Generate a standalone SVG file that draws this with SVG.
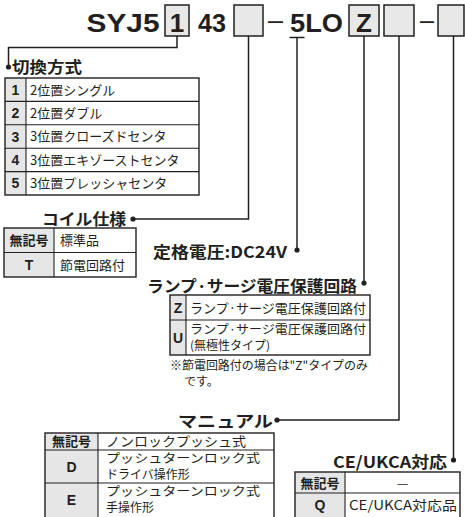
<svg xmlns="http://www.w3.org/2000/svg" width="465" height="517" viewBox="0 0 465 517">
<style>
.t{font-family:"Liberation Sans",Arial,sans-serif;font-weight:bold;font-size:26px;fill:#231f20}
.dash{font-family:"Liberation Sans",Arial,sans-serif;font-size:26px;fill:#231f20}
.box{fill:#e8e8e8;stroke:#231f20;stroke-width:1.5}
.h{font-family:"Noto Sans CJK JP","Liberation Sans",sans-serif;font-weight:bold;font-size:16px;fill:#231f20}
.c{font-family:"Noto Sans CJK JP","Liberation Sans",sans-serif;font-size:13px;fill:#231f20}
.c2{font-family:"Noto Sans CJK JP","Liberation Sans",sans-serif;font-size:12px;fill:#231f20}
.k{font-family:"Liberation Sans","Noto Sans CJK JP",sans-serif;font-weight:bold;font-size:14px;fill:#231f20;text-anchor:middle}
.kj{font-family:"Noto Sans CJK JP",sans-serif;font-weight:bold;font-size:13px;fill:#231f20;text-anchor:middle}
.key{fill:#e6e6e6}
.frame{fill:none;stroke:#231f20;stroke-width:1.4}
.div{stroke:#231f20;stroke-width:1.1}
.ln{fill:none;stroke:#231f20;stroke-width:1.5}
.dot{fill:#231f20}
</style>
<g id="model">
<text class="t" x="86.5" y="32" textLength="73" lengthAdjust="spacingAndGlyphs">SYJ5</text>
<rect class="box" x="165" y="5" width="24" height="31"/>
<text class="t" x="177" y="32" text-anchor="middle">1</text>
<text class="t" x="198" y="32" textLength="28" lengthAdjust="spacingAndGlyphs">43</text>
<rect class="box" x="234" y="5" width="29" height="31"/>
<text class="dash" x="268" y="29" textLength="15" lengthAdjust="spacingAndGlyphs">–</text>
<text class="t" x="290" y="32" textLength="53" lengthAdjust="spacingAndGlyphs">5LO</text>
<line x1="289.5" y1="37.5" x2="304.5" y2="37.5" stroke="#231f20" stroke-width="1.5"/>
<rect class="box" x="349" y="5" width="30" height="31"/>
<text class="t" x="364" y="32" text-anchor="middle">Z</text>
<rect class="box" x="384" y="5" width="30" height="31"/>
<text class="dash" x="420" y="29" textLength="14" lengthAdjust="spacingAndGlyphs">–</text>
<rect class="box" x="438" y="5" width="26" height="31"/>
</g>
<g id="connectors">
<path class="ln" d="M177,36 V47.5 H8.5 V66"/>
<circle class="dot" cx="8.5" cy="67" r="2.6"/>
<path class="ln" d="M248.5,36 V219 H133"/>
<circle class="dot" cx="133" cy="219" r="2.6"/>
<path class="ln" d="M297,38 V250"/>
<circle class="dot" cx="297" cy="250" r="2.6"/>
<path class="ln" d="M364,36 V283"/>
<circle class="dot" cx="364" cy="283" r="2.6"/>
<path class="ln" d="M399,36 V420 H277"/>
<circle class="dot" cx="277" cy="420" r="2.6"/>
<path class="ln" d="M453.5,36 V460"/>
<circle class="dot" cx="453.5" cy="460" r="2.6"/>
</g>
<g id="switching">
<text class="h" x="12" y="73" textLength="70" lengthAdjust="spacingAndGlyphs">切換方式</text>
<rect class="key" x="5" y="78" width="21" height="117"/>
<line class="div" x1="5" y1="101.4" x2="199" y2="101.4"/>
<line class="div" x1="5" y1="124.8" x2="199" y2="124.8"/>
<line class="div" x1="5" y1="148.2" x2="199" y2="148.2"/>
<line class="div" x1="5" y1="171.6" x2="199" y2="171.6"/>
<line class="div" x1="26" y1="78" x2="26" y2="195"/>
<rect class="frame" x="5" y="78" width="194" height="117"/>
<text class="k" x="15.5" y="94.7">1</text>
<text class="k" x="15.5" y="118.1">2</text>
<text class="k" x="15.5" y="141.5">3</text>
<text class="k" x="15.5" y="164.9">4</text>
<text class="k" x="15.5" y="188.3">5</text>
<text class="c" x="30" y="94.5">2位置シングル</text>
<text class="c" x="30" y="117.9">2位置ダブル</text>
<text class="c" x="30" y="141.3">3位置クローズドセンタ</text>
<text class="c" x="30" y="164.7">3位置エキゾーストセンタ</text>
<text class="c" x="30" y="188.1">3位置プレッシャセンタ</text>
</g>
<g id="coil">
<text class="h" x="42" y="225" textLength="84" lengthAdjust="spacingAndGlyphs">コイル仕様</text>
<rect class="key" x="4" y="228" width="50" height="49"/>
<line class="div" x1="4" y1="252.5" x2="136" y2="252.5"/>
<line class="div" x1="54" y1="228" x2="54" y2="277"/>
<rect class="frame" x="4" y="228" width="132" height="49"/>
<text class="kj" x="29" y="245">無記号</text>
<text class="c" x="60" y="245">標準品</text>
<text class="k" x="29" y="270">T</text>
<text class="c" x="60" y="269.5">節電回路付</text>
</g>
<g id="voltage">
<text class="h" x="153" y="258" textLength="134" lengthAdjust="spacingAndGlyphs">定格電圧:DC24V</text>
</g>
<g id="lamp">
<text class="h" x="147" y="292" textLength="210" lengthAdjust="spacingAndGlyphs">ランプ·サージ電圧保護回路</text>
<rect class="key" x="170" y="295" width="16" height="60"/>
<line class="div" x1="170" y1="320" x2="370" y2="320"/>
<line class="div" x1="186" y1="295" x2="186" y2="355"/>
<rect class="frame" x="170" y="295" width="200" height="60"/>
<text class="k" x="178" y="312.5">Z</text>
<text class="k" x="178" y="342.5">U</text>
<text class="c" x="190" y="312.5" textLength="176" lengthAdjust="spacingAndGlyphs">ランプ·サージ電圧保護回路付</text>
<text class="c2" x="190" y="334" textLength="176" lengthAdjust="spacingAndGlyphs">ランプ·サージ電圧保護回路付</text>
<text class="c2" x="190" y="349.5">(無極性タイプ)</text>
<text class="c2" x="170" y="370" textLength="198" lengthAdjust="spacingAndGlyphs">※節電回路付の場合は"Z"タイプのみ</text>
<text class="c2" x="184" y="386">です。</text>
</g>
<g id="manual">
<text class="h" x="178" y="427" textLength="95" lengthAdjust="spacingAndGlyphs">マニュアル</text>
<rect class="key" x="45" y="433" width="53" height="90"/>
<line class="div" x1="45" y1="450" x2="274" y2="450"/>
<line class="div" x1="45" y1="483" x2="274" y2="483"/>
<line class="div" x1="98" y1="433" x2="98" y2="520"/>
<rect class="frame" x="45" y="433" width="229" height="90"/>
<text class="kj" x="71.5" y="446">無記号</text>
<text class="c" x="106" y="446" textLength="140" lengthAdjust="spacingAndGlyphs">ノンロックプッシュ式</text>
<text class="k" x="71.5" y="471.5">D</text>
<text class="c2" x="106" y="463" textLength="154" lengthAdjust="spacingAndGlyphs">プッシュターンロック式</text>
<text class="c2" x="106" y="478.5">ドライバ操作形</text>
<text class="k" x="71.5" y="504.5">E</text>
<text class="c2" x="106" y="496" textLength="154" lengthAdjust="spacingAndGlyphs">プッシュターンロック式</text>
<text class="c2" x="106" y="511.5">手操作形</text>
</g>
<g id="ce">
<text class="h" x="333" y="468" textLength="114" lengthAdjust="spacingAndGlyphs">CE/UKCA対応</text>
<rect class="key" x="295" y="472" width="50" height="50"/>
<line class="div" x1="295" y1="493" x2="460" y2="493"/>
<line class="div" x1="345" y1="472" x2="345" y2="520"/>
<rect class="frame" x="295" y="472" width="165" height="50"/>
<text class="kj" x="320" y="487.5">無記号</text>
<text class="c" x="402.5" y="487.5" text-anchor="middle">—</text>
<text class="k" x="320" y="510">Q</text>
<text class="c" x="349" y="510" textLength="108" lengthAdjust="spacingAndGlyphs">CE/UKCA対応品</text>
</g>
</svg>
